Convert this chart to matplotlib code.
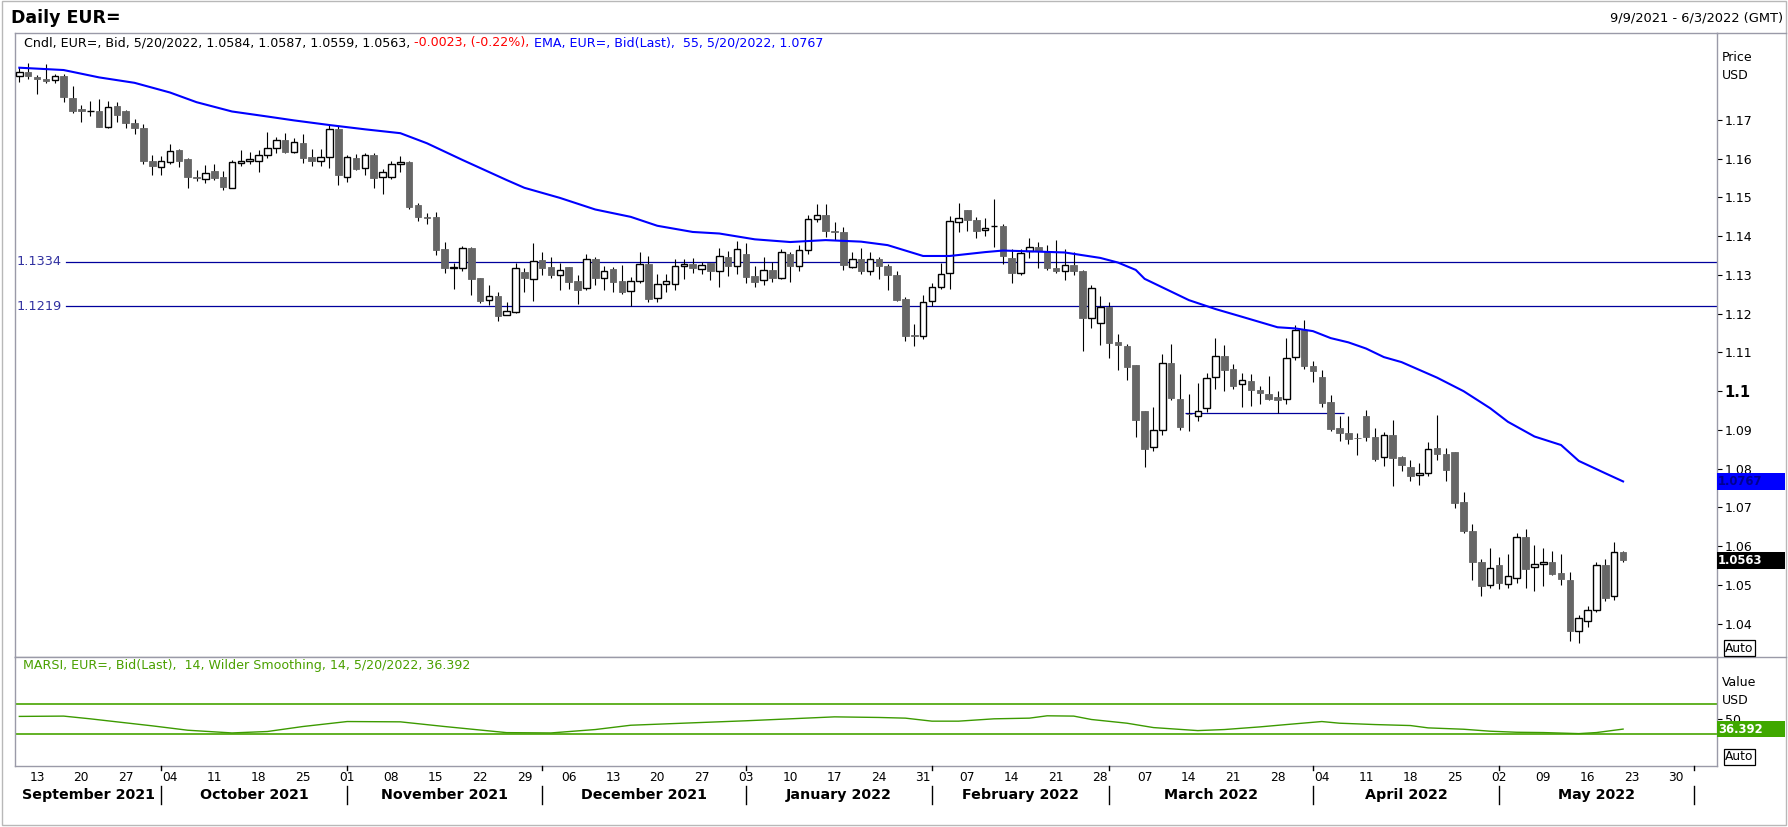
import matplotlib.pyplot as plt
import matplotlib.transforms as mtransforms
from matplotlib.lines import Line2D
from matplotlib.patches import Rectangle
import numpy as np
import pandas as pd

plt.rcParams['font.family'] = ['DejaVu Sans']

# x axis runs to 6/3/2022, candles stop at 5/20/2022
axis_days = pd.bdate_range('2021-09-09', '2022-06-03')
candle_days = pd.bdate_range('2021-09-09', '2022-05-20')

opens = [
    1.1814, 1.1823, 1.1810, 1.1807, 1.1803, 1.1814, 1.1758, 1.1728, 1.1723, 1.1723,
    1.1681, 1.1736, 1.1723, 1.1691, 1.1679, 1.1594, 1.1578, 1.1592, 1.1623, 1.1599,
    1.1554, 1.1547, 1.1568, 1.1554, 1.1524, 1.1590, 1.1594, 1.1593, 1.1609, 1.1629,
    1.1648, 1.1618, 1.1641, 1.1605, 1.1593, 1.1604, 1.1677, 1.1554, 1.1601, 1.1575,
    1.1610, 1.1552, 1.1552, 1.1586, 1.1592, 1.1480, 1.1449, 1.1449, 1.1367, 1.1318,
    1.1317, 1.1370, 1.1292, 1.1235, 1.1246, 1.1196, 1.1205, 1.1308, 1.1289, 1.1339,
    1.1321, 1.1299, 1.1320, 1.1285, 1.1266, 1.1342, 1.1292, 1.1316, 1.1285, 1.1258,
    1.1285, 1.1329, 1.1240, 1.1276, 1.1276, 1.1323, 1.1329, 1.1316, 1.1330, 1.1310,
    1.1347, 1.1323, 1.1353, 1.1298, 1.1287, 1.1314, 1.1291, 1.1353, 1.1324, 1.1365,
    1.1444, 1.1454, 1.1413, 1.1411, 1.1320, 1.1342, 1.1310, 1.1342, 1.1324, 1.1301,
    1.1238, 1.1144, 1.1143, 1.1232, 1.1268, 1.1305, 1.1437, 1.1468, 1.1442, 1.1416,
    1.1426, 1.1427, 1.1344, 1.1304, 1.1362, 1.1372, 1.1362, 1.1317, 1.1310, 1.1325,
    1.1311, 1.1190, 1.1177, 1.1218, 1.1126, 1.1116, 1.1067, 1.0950, 1.0855, 1.0901,
    1.1074, 1.0981, 1.0942, 1.0937, 1.0956, 1.1036, 1.1090, 1.1056, 1.1018, 1.1026,
    1.1003, 1.0993, 1.0985, 1.0979, 1.1087, 1.1157, 1.1065, 1.1036, 1.0972, 1.0905,
    1.0891, 1.0879, 1.0936, 1.0882, 1.0829, 1.0886, 1.0830, 1.0803, 1.0783, 1.0788,
    1.0853, 1.0837, 1.0843, 1.0713, 1.0639, 1.0559, 1.0499, 1.0552, 1.0502, 1.0517,
    1.0624, 1.0545, 1.0553, 1.0558, 1.0531, 1.0513, 1.0380, 1.0407, 1.0435, 1.0552,
    1.0470, 1.0584]
highs = [
    1.1838, 1.1848, 1.1816, 1.1844, 1.1820, 1.1818, 1.1788, 1.1739, 1.1749, 1.1753,
    1.1749, 1.1747, 1.1726, 1.1702, 1.1690, 1.1610, 1.1607, 1.1638, 1.1625, 1.1603,
    1.1571, 1.1583, 1.1586, 1.1568, 1.1597, 1.1623, 1.1617, 1.1623, 1.1668, 1.1655,
    1.1666, 1.1653, 1.1664, 1.1625, 1.1625, 1.1687, 1.1685, 1.1610, 1.1612, 1.1616,
    1.1616, 1.1574, 1.1594, 1.1607, 1.1594, 1.1485, 1.1459, 1.1462, 1.1384, 1.1330,
    1.1375, 1.1372, 1.1292, 1.1273, 1.1256, 1.1229, 1.1332, 1.1317, 1.1383, 1.1360,
    1.1346, 1.1331, 1.1320, 1.1300, 1.1355, 1.1347, 1.1324, 1.1320, 1.1326, 1.1296,
    1.1360, 1.1349, 1.1303, 1.1302, 1.1342, 1.1342, 1.1344, 1.1333, 1.1330, 1.1369,
    1.1361, 1.1387, 1.1382, 1.1324, 1.1347, 1.1333, 1.1366, 1.1360, 1.1377, 1.1455,
    1.1484, 1.1484, 1.1436, 1.1423, 1.1358, 1.1369, 1.1360, 1.1347, 1.1329, 1.1311,
    1.1244, 1.1173, 1.1249, 1.1279, 1.1332, 1.1453, 1.1485, 1.1468, 1.1449, 1.1447,
    1.1497, 1.1432, 1.1367, 1.1367, 1.1395, 1.1385, 1.1377, 1.1390, 1.1367, 1.1358,
    1.1313, 1.1274, 1.1246, 1.1231, 1.1147, 1.1123, 1.1067, 1.0950, 1.0958, 1.1096,
    1.1122, 1.1044, 1.0994, 1.1020, 1.1047, 1.1137, 1.1119, 1.1070, 1.1047, 1.1044,
    1.1013, 1.1039, 1.1000, 1.1137, 1.1171, 1.1184, 1.1078, 1.1055, 1.0989, 1.0937,
    1.0937, 1.0891, 1.0951, 1.0904, 1.0894, 1.0926, 1.0833, 1.0822, 1.0814, 1.0869,
    1.0939, 1.0853, 1.0843, 1.0739, 1.0656, 1.0567, 1.0595, 1.0573, 1.0580, 1.0633,
    1.0644, 1.0603, 1.0595, 1.0587, 1.0580, 1.0533, 1.0423, 1.0446, 1.0559, 1.0566,
    1.0611, 1.0587]
lows = [
    1.1799, 1.1805, 1.1766, 1.1795, 1.1795, 1.1747, 1.1719, 1.1696, 1.1710, 1.1681,
    1.1680, 1.1696, 1.1680, 1.1664, 1.1586, 1.1558, 1.1558, 1.1586, 1.1578, 1.1525,
    1.1543, 1.1537, 1.1545, 1.1519, 1.1524, 1.1580, 1.1586, 1.1567, 1.1603, 1.1614,
    1.1616, 1.1616, 1.1588, 1.1580, 1.1580, 1.1577, 1.1531, 1.1541, 1.1571, 1.1558,
    1.1525, 1.1510, 1.1547, 1.1567, 1.1470, 1.1440, 1.1431, 1.1352, 1.1306, 1.1263,
    1.1311, 1.1247, 1.1228, 1.1222, 1.1182, 1.1196, 1.1203, 1.1257, 1.1234, 1.1300,
    1.1293, 1.1262, 1.1265, 1.1226, 1.1262, 1.1275, 1.1262, 1.1257, 1.1252, 1.1219,
    1.1279, 1.1231, 1.1231, 1.1257, 1.1261, 1.1289, 1.1305, 1.1302, 1.1288, 1.1270,
    1.1297, 1.1303, 1.1279, 1.1270, 1.1275, 1.1283, 1.1289, 1.1283, 1.1310, 1.1354,
    1.1436, 1.1398, 1.1391, 1.1312, 1.1317, 1.1302, 1.1299, 1.1289, 1.1260, 1.1233,
    1.1129, 1.1116, 1.1135, 1.1220, 1.1265, 1.1265, 1.1410, 1.1413, 1.1395, 1.1400,
    1.1371, 1.1328, 1.1278, 1.1299, 1.1343, 1.1319, 1.1312, 1.1304, 1.1286, 1.1299,
    1.1104, 1.1164, 1.1119, 1.1086, 1.1054, 1.1030, 1.0882, 1.0803, 1.0846, 1.0887,
    1.0976, 1.0900, 1.0898, 1.0924, 1.0947, 1.1006, 1.1001, 1.1006, 1.0960, 1.0962,
    1.0966, 1.0978, 1.0943, 1.0968, 1.1080, 1.1058, 1.1024, 1.0960, 1.0897, 1.0872,
    1.0863, 1.0835, 1.0872, 1.0820, 1.0808, 1.0756, 1.0795, 1.0769, 1.0759, 1.0782,
    1.0822, 1.0769, 1.0698, 1.0635, 1.0513, 1.0472, 1.0493, 1.0490, 1.0493, 1.0506,
    1.0493, 1.0483, 1.0496, 1.0526, 1.0500, 1.0354, 1.0351, 1.0390, 1.0429, 1.0459,
    1.0461, 1.0559]
closes = [
    1.1824, 1.1814, 1.1805, 1.1800, 1.1814, 1.1760, 1.1722, 1.1722, 1.1724, 1.1683,
    1.1734, 1.1712, 1.1691, 1.1679, 1.1593, 1.1580, 1.1593, 1.1619, 1.1593, 1.1554,
    1.1550, 1.1564, 1.1550, 1.1526, 1.1591, 1.1593, 1.1599, 1.1609, 1.1629, 1.1648,
    1.1617, 1.1644, 1.1603, 1.1593, 1.1604, 1.1678, 1.1558, 1.1604, 1.1574, 1.1610,
    1.1551, 1.1565, 1.1586, 1.1592, 1.1476, 1.1449, 1.1446, 1.1365, 1.1319, 1.1320,
    1.1369, 1.1289, 1.1234, 1.1245, 1.1195, 1.1206, 1.1318, 1.1291, 1.1336, 1.1319,
    1.1299, 1.1312, 1.1283, 1.1262, 1.1341, 1.1291, 1.1311, 1.1283, 1.1257, 1.1284,
    1.1328, 1.1239, 1.1276, 1.1284, 1.1323, 1.1328, 1.1317, 1.1326, 1.1310, 1.1350,
    1.1323, 1.1368, 1.1294, 1.1283, 1.1313, 1.1291, 1.1360, 1.1323, 1.1365, 1.1444,
    1.1454, 1.1414, 1.1410, 1.1325, 1.1342, 1.1310, 1.1342, 1.1323, 1.1299, 1.1236,
    1.1142, 1.1143, 1.1231, 1.1268, 1.1302, 1.1440, 1.1447, 1.1441, 1.1413, 1.1421,
    1.1427, 1.1348, 1.1304, 1.1356, 1.1372, 1.1362, 1.1319, 1.1310, 1.1325, 1.1309,
    1.1190, 1.1266, 1.1218, 1.1125, 1.1119, 1.1062, 1.0925, 1.0850, 1.0899, 1.1074,
    1.0983, 1.0908, 1.0941, 1.0949, 1.1033, 1.1090, 1.1055, 1.1013, 1.1028, 1.1004,
    1.0996, 1.0981, 1.0978, 1.1085, 1.1157, 1.1066, 1.1053, 1.0970, 1.0903, 1.0893,
    1.0877, 1.0878, 1.0882, 1.0826, 1.0886, 1.0828, 1.0809, 1.0780, 1.0788, 1.0850,
    1.0837, 1.0796, 1.0712, 1.0638, 1.0558, 1.0496, 1.0543, 1.0506, 1.0522, 1.0624,
    1.0542, 1.0553, 1.0558, 1.0529, 1.0514, 1.0382, 1.0414, 1.0435, 1.0552, 1.0467,
    1.0586, 1.0563]

# 55 day EMA
ema_dates = [
    '2021-09-09', '2021-09-16', '2021-09-22', '2021-09-28', '2021-10-04', '2021-10-07',
    '2021-10-13', '2021-10-19', '2021-10-22', '2021-10-28', '2021-11-03', '2021-11-09',
    '2021-11-12', '2021-11-18', '2021-11-25', '2021-11-29', '2021-12-03', '2021-12-09',
    '2021-12-15', '2021-12-20', '2021-12-24', '2021-12-29', '2022-01-04', '2022-01-10',
    '2022-01-14', '2022-01-20', '2022-01-25', '2022-01-31', '2022-02-03', '2022-02-09',
    '2022-02-11', '2022-02-16', '2022-02-22', '2022-02-28', '2022-03-02', '2022-03-04',
    '2022-03-07', '2022-03-09', '2022-03-14', '2022-03-17', '2022-03-22', '2022-03-28',
    '2022-03-30', '2022-04-01', '2022-04-05', '2022-04-07', '2022-04-11', '2022-04-13',
    '2022-04-15', '2022-04-21', '2022-04-26', '2022-04-29', '2022-05-03', '2022-05-06',
    '2022-05-11', '2022-05-13', '2022-05-18', '2022-05-20']
ema_values = [
    1.1835, 1.1829, 1.1810, 1.1796, 1.1771, 1.1746,
    1.1722, 1.1709, 1.1699, 1.1687, 1.1676, 1.1666,
    1.1640, 1.1597, 1.1545, 1.1525, 1.1499, 1.1469,
    1.1450, 1.1427, 1.1411, 1.1407, 1.1392, 1.1385,
    1.1390, 1.1386, 1.1377, 1.1349, 1.1349, 1.1359,
    1.1363, 1.1361, 1.1358, 1.1344, 1.1332, 1.1313,
    1.1290, 1.1268, 1.1235, 1.1212, 1.1192, 1.1165,
    1.1162, 1.1155, 1.1137, 1.1126, 1.1110, 1.1088,
    1.1075, 1.1035, 1.1000, 1.0956, 1.0921, 1.0883,
    1.0861, 1.0820, 1.0788, 1.0767]

# MARSI 14, Wilder smoothing
rsi_dates = [
    '2021-09-09', '2021-09-16', '2021-09-21', '2021-09-24', '2021-09-30', '2021-10-06',
    '2021-10-13', '2021-10-19', '2021-10-25', '2021-11-01', '2021-11-09', '2021-11-16',
    '2021-11-25', '2021-12-02', '2021-12-09', '2021-12-15', '2021-12-24', '2022-01-03',
    '2022-01-10', '2022-01-17', '2022-01-24', '2022-01-27', '2022-02-01', '2022-02-04',
    '2022-02-10', '2022-02-16', '2022-02-18', '2022-02-23', '2022-02-25', '2022-03-03',
    '2022-03-08', '2022-03-15', '2022-03-18', '2022-03-24', '2022-03-29', '2022-04-04',
    '2022-04-06', '2022-04-12', '2022-04-18', '2022-04-20', '2022-04-26', '2022-04-29',
    '2022-05-04', '2022-05-09', '2022-05-13', '2022-05-17', '2022-05-20']
rsi_values = [
    53.2, 53.6, 50.0, 46.0, 40.7, 34.9,
    31.3, 33.2, 39.8, 46.4, 46.0, 39.8,
    31.7, 31.3, 35.8, 41.5, 44.7, 47.4,
    50.0, 52.6, 51.8, 50.9, 46.9, 46.9,
    50.0, 50.9, 54.0, 53.6, 49.1, 44.2,
    38.4, 34.4, 35.8, 39.3, 42.4, 46.4,
    44.2, 42.4, 41.1, 38.0, 36.2, 33.6,
    32.2, 31.8, 30.4, 31.8, 36.392]

levels = [1.1334, 1.1219]
trend_level = 1.0943
trend_span = ['2022-03-14', '2022-04-06']
rsi_bands = [70, 30]
price_ticks = [1.04, 1.05, 1.06, 1.07, 1.08, 1.09, 1.10, 1.11, 1.12, 1.13, 1.14, 1.15, 1.16, 1.17]
month_names = ['September 2021', 'October 2021', 'November 2021', 'December 2021',
               'January 2022', 'February 2022', 'March 2022', 'April 2022', 'May 2022']


def pos(d):
    return axis_days.get_loc(pd.Timestamp(d))


W, H = 1788, 827
fig = plt.figure(figsize=(W / 100, H / 100), dpi=100)


def fx(px):
    return px / W


def fy(py):
    return 1 - py / H


ax = fig.add_axes([fx(15), fy(657), fx(1717) - fx(15), fy(33) - fy(657)])
axr = fig.add_axes([fx(15), fy(766), fx(1717) - fx(15), fy(657) - fy(766)])

x = np.array([pos(d) for d in candle_days])
o, h, l, c = (np.array(v) for v in (opens, highs, lows, closes))
up = c >= o

# candles
ax.vlines(x, l, h, color='black', lw=0.8, zorder=2)
ax.bar(x[up], (c - o)[up], bottom=o[up], width=0.74, facecolor='white',
       edgecolor='black', linewidth=1.0, zorder=3)
ax.bar(x[~up], (o - c)[~up], bottom=c[~up], width=0.74, facecolor='#666666',
       edgecolor='#666666', linewidth=0.6, zorder=3)

ax.plot([pos(d) for d in ema_dates], ema_values, color='#0000ff', lw=1.5, zorder=4)

yb = mtransforms.blended_transform_factory(ax.transAxes, ax.transData)
for lv in levels:
    ax.axhline(lv, xmin=(66 - 15) / 1702, xmax=1, color='#00009c', lw=0.9, zorder=1)
    ax.text(0.0012, lv, f'{lv:.4f}', transform=yb, ha='left', va='center',
            color='#3030a0', fontsize=9.3)
ax.hlines(trend_level, pos(trend_span[0]) - 0.4, pos(trend_span[1]) + 0.5,
          color='#00009c', lw=0.9, zorder=1)

xmin, xmax = -0.49, 191.6
ax.set_xlim(xmin, xmax)
ax.set_ylim(1.03138, 1.19246)
ax.set_xticks([])
ax.yaxis.tick_right()
ax.set_yticks(price_ticks)
ax.set_yticklabels(['1.1' if abs(t - 1.1) < 1e-9 else f'{t:.2f}' for t in price_ticks])
ax.tick_params(axis='y', direction='out', length=3.6, width=0.8, pad=2, labelsize=9)
for t in ax.get_yticklabels():
    if t.get_text() == '1.1':
        t.set_fontweight('bold')
        t.set_fontsize(10.5)

# RSI panel
axr.plot([pos(d) for d in rsi_dates], rsi_values, color='#3c9a00', lw=1.0, zorder=3)
for b in rsi_bands:
    axr.axhline(b, color='#48a400', lw=1.2, zorder=2)
axr.set_xlim(xmin, xmax)
axr.set_ylim(-12.5, 131.9)
axr.set_xticks([])
axr.yaxis.tick_right()
axr.set_yticks([50])
axr.set_yticklabels(['50'])
axr.tick_params(axis='y', direction='out', length=3.6, width=0.8, pad=2, labelsize=9)

for a in (ax, axr):
    for s in a.spines.values():
        s.set_color('#9a9aa8')
        s.set_linewidth(1.0)

# frame pieces in the right column
for py in (33, 657):
    fig.add_artist(Line2D([fx(1717), fx(1786)], [fy(py), fy(py)], color='#9a9aa8', lw=1.0))
fig.add_artist(Rectangle((fx(2), fy(825)), fx(1786) - fx(2), fy(1) - fy(825),
                         transform=fig.transFigure, fill=False, ec='#b8b8b8', lw=1.0))

# header
fig.text(fx(11), fy(18), 'Daily EUR=', fontsize=12.5, fontweight='bold', va='center')
fig.text(fx(1783), fy(18), '9/9/2021 - 6/3/2022 (GMT)', fontsize=9.4, ha='right', va='center')

chg = closes[-1] - closes[-2]
seg1 = (f'Cndl, EUR=, Bid, 5/20/2022, {opens[-1]:.4f}, {highs[-1]:.4f}, '
        f'{lows[-1]:.4f}, {closes[-1]:.4f},')
seg2 = f' {chg:.4f}, ({chg / closes[-2] * 100:.2f}%),'
seg3 = f' EMA, EUR=, Bid(Last),  55, 5/20/2022, {ema_values[-1]:.4f}'
t1 = fig.text(fx(24), fy(46), seg1, fontsize=9.1, va='baseline', color='black')
t2 = ax.annotate(seg2, xy=(1, 0), xycoords=t1, va='bottom', ha='left',
                 fontsize=9.1, color='#ff0000', annotation_clip=False)
ax.annotate(seg3, xy=(1, 0), xycoords=t2, va='bottom', ha='left',
            fontsize=9.1, color='#0000ff', annotation_clip=False)

fig.text(fx(23), fy(666),
         f'MARSI, EUR=, Bid(Last),  14, Wilder Smoothing, 14, 5/20/2022, {rsi_values[-1]:.3f}',
         fontsize=9.1, color='#4aa000', va='center')

# right column labels
for s, py in (('Price', 57.6), ('USD', 75.6), ('Value', 682), ('USD', 700)):
    fig.text(fx(1722), fy(py), s, fontsize=9, va='center')
for py in (648, 757):
    fig.text(fx(1725), fy(py), 'Auto', fontsize=8.8, va='center',
             bbox=dict(boxstyle='square,pad=0.12', fc='white', ec='black', lw=0.9))

# value tags
tp = mtransforms.blended_transform_factory(fig.transFigure, ax.transData)
tr = mtransforms.blended_transform_factory(fig.transFigure, axr.transData)
for val, txt, fc, tc, tf, hh in ((ema_values[-1], f'{ema_values[-1]:.4f}', '#0000ff', '#000090', tp, 0.0042),
                                 (closes[-1], f'{closes[-1]:.4f}', 'black', 'white', tp, 0.0042),
                                 (rsi_values[-1], f'{rsi_values[-1]:.3f}', '#40a800', 'white', tr, 21.5)):
    fig.add_artist(Rectangle((fx(1717), val - hh / 2), fx(1785) - fx(1717), hh,
                             transform=tf, fc=fc, ec='none'))
    fig.text(fx(1718), val, txt, transform=tf, color=tc, fontsize=8.4,
             fontweight='bold', va='center', ha='left')

# date axis
tdx = mtransforms.blended_transform_factory(axr.transData, fig.transFigure)
for d in axis_days:
    if d.weekday() == 0:
        fig.text(pos(d), fy(777.5), f'{d.day:02d}', transform=tdx, ha='center',
                 va='center', fontsize=8.8)
month_starts = [pos(g[0]) for _, g in
                pd.Series(axis_days, index=axis_days).groupby(axis_days.to_period('M'))][1:]
bounds = [xmin] + month_starts
for i, name in enumerate(month_names):
    fig.text((bounds[i] + bounds[i + 1]) / 2, fy(795), name, transform=tdx,
             ha='center', va='center', fontsize=10.3, fontweight='bold')
for m in month_starts:
    fig.add_artist(Line2D([m, m], [fy(786), fy(804)], transform=tdx, color='black', lw=1.0))
    fig.add_artist(Line2D([m, m], [fy(766), fy(770)], transform=tdx, color='black', lw=1.0))

fig.savefig('out.png', dpi=100)
